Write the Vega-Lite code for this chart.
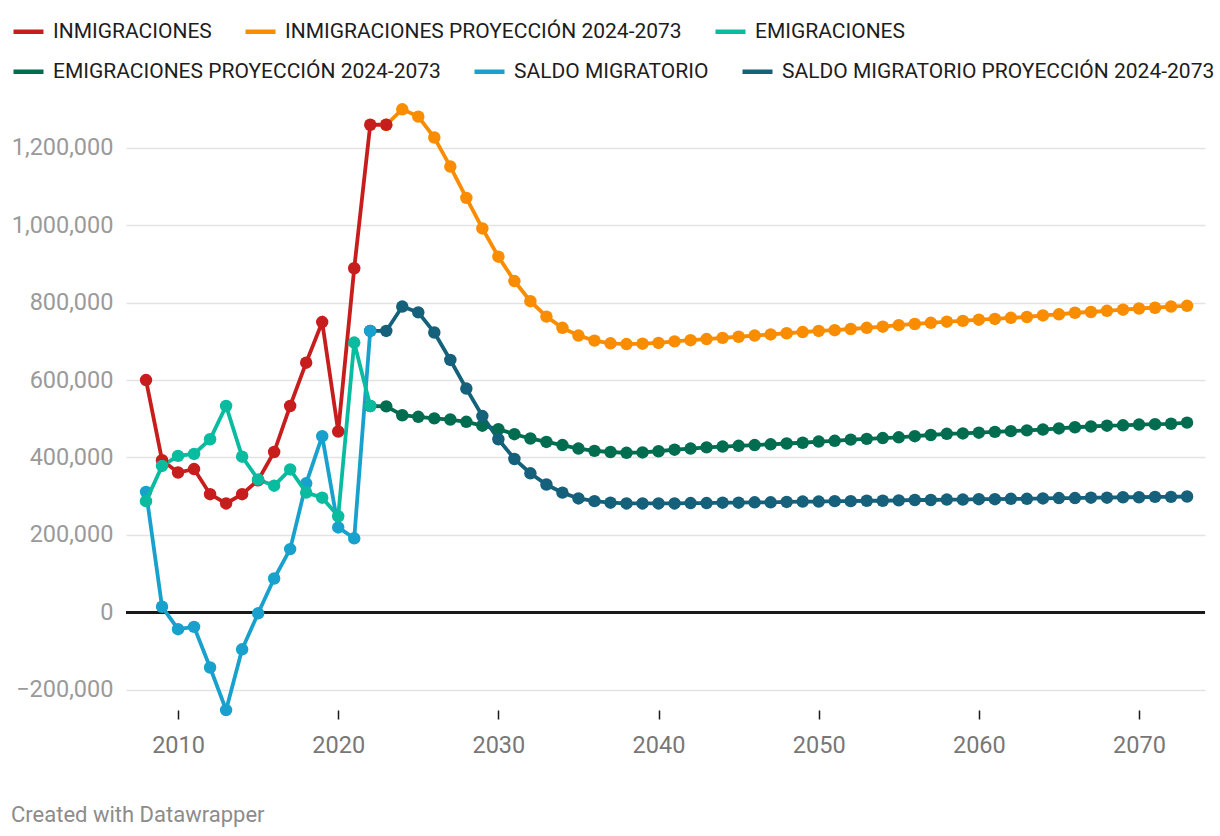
{
  "$schema": "https://vega.github.io/schema/vega-lite/v6.json",
  "width": 1079,
  "height": 605,
  "autosize": {"type": "none"},
  "padding": {"left": 126, "top": 100, "right": 15, "bottom": 131},
  "background": "#ffffff",
  "config": {
    "font": "Roboto",
    "view": {"stroke": null},
    "legend": {
      "title": null,
      "orient": "none",
      "direction": "horizontal",
      "symbolType": "stroke",
      "symbolSize": 900,
      "symbolStrokeWidth": 4.5,
      "labelFontSize": 21,
      "labelFont": "Roboto",
      "labelColor": "#1d1d1d",
      "labelOffset": 7,
      "labelLimit": 0,
      "columnPadding": 24
    }
  },
  "title": {
    "text": "Created with Datawrapper",
    "orient": "bottom",
    "anchor": "start",
    "offset": 48,
    "fontSize": 22,
    "fontWeight": "normal",
    "color": "#8c8c8c",
    "font": "Roboto"
  },
  "data": {
    "values": [
      {"year":2023,"serie":"INMIGRACIONES PROYECCIÓN 2024-2073","value":1260000},
      {"year":2024,"serie":"INMIGRACIONES PROYECCIÓN 2024-2073","value":1300000},
      {"year":2025,"serie":"INMIGRACIONES PROYECCIÓN 2024-2073","value":1281000},
      {"year":2026,"serie":"INMIGRACIONES PROYECCIÓN 2024-2073","value":1227000},
      {"year":2027,"serie":"INMIGRACIONES PROYECCIÓN 2024-2073","value":1152000},
      {"year":2028,"serie":"INMIGRACIONES PROYECCIÓN 2024-2073","value":1071000},
      {"year":2029,"serie":"INMIGRACIONES PROYECCIÓN 2024-2073","value":992000},
      {"year":2030,"serie":"INMIGRACIONES PROYECCIÓN 2024-2073","value":919000},
      {"year":2031,"serie":"INMIGRACIONES PROYECCIÓN 2024-2073","value":856000},
      {"year":2032,"serie":"INMIGRACIONES PROYECCIÓN 2024-2073","value":804000},
      {"year":2033,"serie":"INMIGRACIONES PROYECCIÓN 2024-2073","value":764000},
      {"year":2034,"serie":"INMIGRACIONES PROYECCIÓN 2024-2073","value":735000},
      {"year":2035,"serie":"INMIGRACIONES PROYECCIÓN 2024-2073","value":715000},
      {"year":2036,"serie":"INMIGRACIONES PROYECCIÓN 2024-2073","value":702000},
      {"year":2037,"serie":"INMIGRACIONES PROYECCIÓN 2024-2073","value":695000},
      {"year":2038,"serie":"INMIGRACIONES PROYECCIÓN 2024-2073","value":693000},
      {"year":2039,"serie":"INMIGRACIONES PROYECCIÓN 2024-2073","value":694000},
      {"year":2040,"serie":"INMIGRACIONES PROYECCIÓN 2024-2073","value":696000},
      {"year":2041,"serie":"INMIGRACIONES PROYECCIÓN 2024-2073","value":700000},
      {"year":2042,"serie":"INMIGRACIONES PROYECCIÓN 2024-2073","value":703000},
      {"year":2043,"serie":"INMIGRACIONES PROYECCIÓN 2024-2073","value":706000},
      {"year":2044,"serie":"INMIGRACIONES PROYECCIÓN 2024-2073","value":709000},
      {"year":2045,"serie":"INMIGRACIONES PROYECCIÓN 2024-2073","value":712000},
      {"year":2046,"serie":"INMIGRACIONES PROYECCIÓN 2024-2073","value":715000},
      {"year":2047,"serie":"INMIGRACIONES PROYECCIÓN 2024-2073","value":718000},
      {"year":2048,"serie":"INMIGRACIONES PROYECCIÓN 2024-2073","value":721000},
      {"year":2049,"serie":"INMIGRACIONES PROYECCIÓN 2024-2073","value":724000},
      {"year":2050,"serie":"INMIGRACIONES PROYECCIÓN 2024-2073","value":727000},
      {"year":2051,"serie":"INMIGRACIONES PROYECCIÓN 2024-2073","value":729000},
      {"year":2052,"serie":"INMIGRACIONES PROYECCIÓN 2024-2073","value":732000},
      {"year":2053,"serie":"INMIGRACIONES PROYECCIÓN 2024-2073","value":735000},
      {"year":2054,"serie":"INMIGRACIONES PROYECCIÓN 2024-2073","value":738000},
      {"year":2055,"serie":"INMIGRACIONES PROYECCIÓN 2024-2073","value":742000},
      {"year":2056,"serie":"INMIGRACIONES PROYECCIÓN 2024-2073","value":745000},
      {"year":2057,"serie":"INMIGRACIONES PROYECCIÓN 2024-2073","value":748000},
      {"year":2058,"serie":"INMIGRACIONES PROYECCIÓN 2024-2073","value":751000},
      {"year":2059,"serie":"INMIGRACIONES PROYECCIÓN 2024-2073","value":753000},
      {"year":2060,"serie":"INMIGRACIONES PROYECCIÓN 2024-2073","value":756000},
      {"year":2061,"serie":"INMIGRACIONES PROYECCIÓN 2024-2073","value":758000},
      {"year":2062,"serie":"INMIGRACIONES PROYECCIÓN 2024-2073","value":761000},
      {"year":2063,"serie":"INMIGRACIONES PROYECCIÓN 2024-2073","value":763000},
      {"year":2064,"serie":"INMIGRACIONES PROYECCIÓN 2024-2073","value":767000},
      {"year":2065,"serie":"INMIGRACIONES PROYECCIÓN 2024-2073","value":770000},
      {"year":2066,"serie":"INMIGRACIONES PROYECCIÓN 2024-2073","value":774000},
      {"year":2067,"serie":"INMIGRACIONES PROYECCIÓN 2024-2073","value":776000},
      {"year":2068,"serie":"INMIGRACIONES PROYECCIÓN 2024-2073","value":779000},
      {"year":2069,"serie":"INMIGRACIONES PROYECCIÓN 2024-2073","value":782000},
      {"year":2070,"serie":"INMIGRACIONES PROYECCIÓN 2024-2073","value":785000},
      {"year":2071,"serie":"INMIGRACIONES PROYECCIÓN 2024-2073","value":787000},
      {"year":2072,"serie":"INMIGRACIONES PROYECCIÓN 2024-2073","value":790000},
      {"year":2073,"serie":"INMIGRACIONES PROYECCIÓN 2024-2073","value":792000},
      {"year":2022,"serie":"EMIGRACIONES PROYECCIÓN 2024-2073","value":533000},
      {"year":2023,"serie":"EMIGRACIONES PROYECCIÓN 2024-2073","value":532000},
      {"year":2024,"serie":"EMIGRACIONES PROYECCIÓN 2024-2073","value":509000},
      {"year":2025,"serie":"EMIGRACIONES PROYECCIÓN 2024-2073","value":505000},
      {"year":2026,"serie":"EMIGRACIONES PROYECCIÓN 2024-2073","value":501000},
      {"year":2027,"serie":"EMIGRACIONES PROYECCIÓN 2024-2073","value":498000},
      {"year":2028,"serie":"EMIGRACIONES PROYECCIÓN 2024-2073","value":492000},
      {"year":2029,"serie":"EMIGRACIONES PROYECCIÓN 2024-2073","value":482000},
      {"year":2030,"serie":"EMIGRACIONES PROYECCIÓN 2024-2073","value":473000},
      {"year":2031,"serie":"EMIGRACIONES PROYECCIÓN 2024-2073","value":460000},
      {"year":2032,"serie":"EMIGRACIONES PROYECCIÓN 2024-2073","value":449000},
      {"year":2033,"serie":"EMIGRACIONES PROYECCIÓN 2024-2073","value":440000},
      {"year":2034,"serie":"EMIGRACIONES PROYECCIÓN 2024-2073","value":432000},
      {"year":2035,"serie":"EMIGRACIONES PROYECCIÓN 2024-2073","value":423000},
      {"year":2036,"serie":"EMIGRACIONES PROYECCIÓN 2024-2073","value":417000},
      {"year":2037,"serie":"EMIGRACIONES PROYECCIÓN 2024-2073","value":414000},
      {"year":2038,"serie":"EMIGRACIONES PROYECCIÓN 2024-2073","value":412000},
      {"year":2039,"serie":"EMIGRACIONES PROYECCIÓN 2024-2073","value":413000},
      {"year":2040,"serie":"EMIGRACIONES PROYECCIÓN 2024-2073","value":416000},
      {"year":2041,"serie":"EMIGRACIONES PROYECCIÓN 2024-2073","value":420000},
      {"year":2042,"serie":"EMIGRACIONES PROYECCIÓN 2024-2073","value":423000},
      {"year":2043,"serie":"EMIGRACIONES PROYECCIÓN 2024-2073","value":426000},
      {"year":2044,"serie":"EMIGRACIONES PROYECCIÓN 2024-2073","value":428000},
      {"year":2045,"serie":"EMIGRACIONES PROYECCIÓN 2024-2073","value":430000},
      {"year":2046,"serie":"EMIGRACIONES PROYECCIÓN 2024-2073","value":432000},
      {"year":2047,"serie":"EMIGRACIONES PROYECCIÓN 2024-2073","value":434000},
      {"year":2048,"serie":"EMIGRACIONES PROYECCIÓN 2024-2073","value":436000},
      {"year":2049,"serie":"EMIGRACIONES PROYECCIÓN 2024-2073","value":438000},
      {"year":2050,"serie":"EMIGRACIONES PROYECCIÓN 2024-2073","value":441000},
      {"year":2051,"serie":"EMIGRACIONES PROYECCIÓN 2024-2073","value":443000},
      {"year":2052,"serie":"EMIGRACIONES PROYECCIÓN 2024-2073","value":446000},
      {"year":2053,"serie":"EMIGRACIONES PROYECCIÓN 2024-2073","value":448000},
      {"year":2054,"serie":"EMIGRACIONES PROYECCIÓN 2024-2073","value":450000},
      {"year":2055,"serie":"EMIGRACIONES PROYECCIÓN 2024-2073","value":452000},
      {"year":2056,"serie":"EMIGRACIONES PROYECCIÓN 2024-2073","value":455000},
      {"year":2057,"serie":"EMIGRACIONES PROYECCIÓN 2024-2073","value":458000},
      {"year":2058,"serie":"EMIGRACIONES PROYECCIÓN 2024-2073","value":461000},
      {"year":2059,"serie":"EMIGRACIONES PROYECCIÓN 2024-2073","value":462000},
      {"year":2060,"serie":"EMIGRACIONES PROYECCIÓN 2024-2073","value":464000},
      {"year":2061,"serie":"EMIGRACIONES PROYECCIÓN 2024-2073","value":466000},
      {"year":2062,"serie":"EMIGRACIONES PROYECCIÓN 2024-2073","value":468000},
      {"year":2063,"serie":"EMIGRACIONES PROYECCIÓN 2024-2073","value":470000},
      {"year":2064,"serie":"EMIGRACIONES PROYECCIÓN 2024-2073","value":472000},
      {"year":2065,"serie":"EMIGRACIONES PROYECCIÓN 2024-2073","value":475000},
      {"year":2066,"serie":"EMIGRACIONES PROYECCIÓN 2024-2073","value":478000},
      {"year":2067,"serie":"EMIGRACIONES PROYECCIÓN 2024-2073","value":480000},
      {"year":2068,"serie":"EMIGRACIONES PROYECCIÓN 2024-2073","value":482000},
      {"year":2069,"serie":"EMIGRACIONES PROYECCIÓN 2024-2073","value":483000},
      {"year":2070,"serie":"EMIGRACIONES PROYECCIÓN 2024-2073","value":485000},
      {"year":2071,"serie":"EMIGRACIONES PROYECCIÓN 2024-2073","value":486000},
      {"year":2072,"serie":"EMIGRACIONES PROYECCIÓN 2024-2073","value":487000},
      {"year":2073,"serie":"EMIGRACIONES PROYECCIÓN 2024-2073","value":490000},
      {"year":2022,"serie":"SALDO MIGRATORIO PROYECCIÓN 2024-2073","value":727000},
      {"year":2023,"serie":"SALDO MIGRATORIO PROYECCIÓN 2024-2073","value":727000},
      {"year":2024,"serie":"SALDO MIGRATORIO PROYECCIÓN 2024-2073","value":790000},
      {"year":2025,"serie":"SALDO MIGRATORIO PROYECCIÓN 2024-2073","value":775000},
      {"year":2026,"serie":"SALDO MIGRATORIO PROYECCIÓN 2024-2073","value":723000},
      {"year":2027,"serie":"SALDO MIGRATORIO PROYECCIÓN 2024-2073","value":652000},
      {"year":2028,"serie":"SALDO MIGRATORIO PROYECCIÓN 2024-2073","value":578000},
      {"year":2029,"serie":"SALDO MIGRATORIO PROYECCIÓN 2024-2073","value":507000},
      {"year":2030,"serie":"SALDO MIGRATORIO PROYECCIÓN 2024-2073","value":447000},
      {"year":2031,"serie":"SALDO MIGRATORIO PROYECCIÓN 2024-2073","value":396000},
      {"year":2032,"serie":"SALDO MIGRATORIO PROYECCIÓN 2024-2073","value":359000},
      {"year":2033,"serie":"SALDO MIGRATORIO PROYECCIÓN 2024-2073","value":330000},
      {"year":2034,"serie":"SALDO MIGRATORIO PROYECCIÓN 2024-2073","value":309000},
      {"year":2035,"serie":"SALDO MIGRATORIO PROYECCIÓN 2024-2073","value":294000},
      {"year":2036,"serie":"SALDO MIGRATORIO PROYECCIÓN 2024-2073","value":287000},
      {"year":2037,"serie":"SALDO MIGRATORIO PROYECCIÓN 2024-2073","value":283000},
      {"year":2038,"serie":"SALDO MIGRATORIO PROYECCIÓN 2024-2073","value":281000},
      {"year":2039,"serie":"SALDO MIGRATORIO PROYECCIÓN 2024-2073","value":281000},
      {"year":2040,"serie":"SALDO MIGRATORIO PROYECCIÓN 2024-2073","value":281000},
      {"year":2041,"serie":"SALDO MIGRATORIO PROYECCIÓN 2024-2073","value":281000},
      {"year":2042,"serie":"SALDO MIGRATORIO PROYECCIÓN 2024-2073","value":282000},
      {"year":2043,"serie":"SALDO MIGRATORIO PROYECCIÓN 2024-2073","value":282000},
      {"year":2044,"serie":"SALDO MIGRATORIO PROYECCIÓN 2024-2073","value":283000},
      {"year":2045,"serie":"SALDO MIGRATORIO PROYECCIÓN 2024-2073","value":283000},
      {"year":2046,"serie":"SALDO MIGRATORIO PROYECCIÓN 2024-2073","value":284000},
      {"year":2047,"serie":"SALDO MIGRATORIO PROYECCIÓN 2024-2073","value":284000},
      {"year":2048,"serie":"SALDO MIGRATORIO PROYECCIÓN 2024-2073","value":285000},
      {"year":2049,"serie":"SALDO MIGRATORIO PROYECCIÓN 2024-2073","value":286000},
      {"year":2050,"serie":"SALDO MIGRATORIO PROYECCIÓN 2024-2073","value":286000},
      {"year":2051,"serie":"SALDO MIGRATORIO PROYECCIÓN 2024-2073","value":287000},
      {"year":2052,"serie":"SALDO MIGRATORIO PROYECCIÓN 2024-2073","value":287000},
      {"year":2053,"serie":"SALDO MIGRATORIO PROYECCIÓN 2024-2073","value":288000},
      {"year":2054,"serie":"SALDO MIGRATORIO PROYECCIÓN 2024-2073","value":288000},
      {"year":2055,"serie":"SALDO MIGRATORIO PROYECCIÓN 2024-2073","value":289000},
      {"year":2056,"serie":"SALDO MIGRATORIO PROYECCIÓN 2024-2073","value":290000},
      {"year":2057,"serie":"SALDO MIGRATORIO PROYECCIÓN 2024-2073","value":290000},
      {"year":2058,"serie":"SALDO MIGRATORIO PROYECCIÓN 2024-2073","value":291000},
      {"year":2059,"serie":"SALDO MIGRATORIO PROYECCIÓN 2024-2073","value":291000},
      {"year":2060,"serie":"SALDO MIGRATORIO PROYECCIÓN 2024-2073","value":292000},
      {"year":2061,"serie":"SALDO MIGRATORIO PROYECCIÓN 2024-2073","value":292000},
      {"year":2062,"serie":"SALDO MIGRATORIO PROYECCIÓN 2024-2073","value":293000},
      {"year":2063,"serie":"SALDO MIGRATORIO PROYECCIÓN 2024-2073","value":293000},
      {"year":2064,"serie":"SALDO MIGRATORIO PROYECCIÓN 2024-2073","value":294000},
      {"year":2065,"serie":"SALDO MIGRATORIO PROYECCIÓN 2024-2073","value":295000},
      {"year":2066,"serie":"SALDO MIGRATORIO PROYECCIÓN 2024-2073","value":295000},
      {"year":2067,"serie":"SALDO MIGRATORIO PROYECCIÓN 2024-2073","value":296000},
      {"year":2068,"serie":"SALDO MIGRATORIO PROYECCIÓN 2024-2073","value":296000},
      {"year":2069,"serie":"SALDO MIGRATORIO PROYECCIÓN 2024-2073","value":297000},
      {"year":2070,"serie":"SALDO MIGRATORIO PROYECCIÓN 2024-2073","value":297000},
      {"year":2071,"serie":"SALDO MIGRATORIO PROYECCIÓN 2024-2073","value":298000},
      {"year":2072,"serie":"SALDO MIGRATORIO PROYECCIÓN 2024-2073","value":298000},
      {"year":2073,"serie":"SALDO MIGRATORIO PROYECCIÓN 2024-2073","value":299000},
      {"year":2008,"serie":"INMIGRACIONES","value":600000},
      {"year":2009,"serie":"INMIGRACIONES","value":393000},
      {"year":2010,"serie":"INMIGRACIONES","value":361000},
      {"year":2011,"serie":"INMIGRACIONES","value":370000},
      {"year":2012,"serie":"INMIGRACIONES","value":305000},
      {"year":2013,"serie":"INMIGRACIONES","value":281000},
      {"year":2014,"serie":"INMIGRACIONES","value":305000},
      {"year":2015,"serie":"INMIGRACIONES","value":341000},
      {"year":2016,"serie":"INMIGRACIONES","value":414000},
      {"year":2017,"serie":"INMIGRACIONES","value":533000},
      {"year":2018,"serie":"INMIGRACIONES","value":645000},
      {"year":2019,"serie":"INMIGRACIONES","value":750000},
      {"year":2020,"serie":"INMIGRACIONES","value":467000},
      {"year":2021,"serie":"INMIGRACIONES","value":889000},
      {"year":2022,"serie":"INMIGRACIONES","value":1260000},
      {"year":2023,"serie":"INMIGRACIONES","value":1260000},
      {"year":2008,"serie":"EMIGRACIONES","value":287000},
      {"year":2009,"serie":"EMIGRACIONES","value":378000},
      {"year":2010,"serie":"EMIGRACIONES","value":404000},
      {"year":2011,"serie":"EMIGRACIONES","value":409000},
      {"year":2012,"serie":"EMIGRACIONES","value":447000},
      {"year":2013,"serie":"EMIGRACIONES","value":533000},
      {"year":2014,"serie":"EMIGRACIONES","value":402000},
      {"year":2015,"serie":"EMIGRACIONES","value":343000},
      {"year":2016,"serie":"EMIGRACIONES","value":327000},
      {"year":2017,"serie":"EMIGRACIONES","value":369000},
      {"year":2018,"serie":"EMIGRACIONES","value":309000},
      {"year":2019,"serie":"EMIGRACIONES","value":296000},
      {"year":2020,"serie":"EMIGRACIONES","value":248000},
      {"year":2021,"serie":"EMIGRACIONES","value":697000},
      {"year":2022,"serie":"EMIGRACIONES","value":533000},
      {"year":2008,"serie":"SALDO MIGRATORIO","value":311000},
      {"year":2009,"serie":"SALDO MIGRATORIO","value":14000},
      {"year":2010,"serie":"SALDO MIGRATORIO","value":-44000},
      {"year":2011,"serie":"SALDO MIGRATORIO","value":-38000},
      {"year":2012,"serie":"SALDO MIGRATORIO","value":-143000},
      {"year":2013,"serie":"SALDO MIGRATORIO","value":-253000},
      {"year":2014,"serie":"SALDO MIGRATORIO","value":-96000},
      {"year":2015,"serie":"SALDO MIGRATORIO","value":-3000},
      {"year":2016,"serie":"SALDO MIGRATORIO","value":87000},
      {"year":2017,"serie":"SALDO MIGRATORIO","value":163000},
      {"year":2018,"serie":"SALDO MIGRATORIO","value":333000},
      {"year":2019,"serie":"SALDO MIGRATORIO","value":455000},
      {"year":2020,"serie":"SALDO MIGRATORIO","value":219000},
      {"year":2021,"serie":"SALDO MIGRATORIO","value":191000},
      {"year":2022,"serie":"SALDO MIGRATORIO","value":727000}
    ]
  },
  "encoding": {
    "x": {
      "field": "year",
      "type": "quantitative",
      "scale": {"domain": [2006.75, 2074.12], "nice": false, "zero": false},
      "axis": {
        "title": null,
        "values": [2010, 2020, 2030, 2040, 2050, 2060, 2070],
        "format": "d",
        "grid": false,
        "domain": false,
        "offset": 5,
        "tickSize": 9,
        "tickWidth": 1.5,
        "tickColor": "#1a1a1a",
        "labelFontSize": 23.5,
        "labelColor": "#777777",
        "labelFont": "Roboto",
        "labelPadding": 14
      }
    },
    "y": {
      "field": "value",
      "type": "quantitative",
      "scale": {"domain": [-240000, 1324000], "nice": false, "zero": false},
      "axis": {
        "title": null,
        "values": [-200000, 0, 200000, 400000, 600000, 800000, 1000000, 1200000],
        "format": ",d",
        "grid": true,
        "gridColor": "#e3e3e3",
        "gridWidth": 1.5,
        "domain": false,
        "ticks": false,
        "labelFontSize": 23.5,
        "labelColor": "#9a9a9a",
        "labelFont": "Roboto",
        "labelPadding": 13
      }
    }
  },
  "resolve": {"scale": {"color": "independent"}, "legend": {"color": "independent"}},
  "layer": [
    {
      "mark": {"type": "rule", "color": "#1a1a1a", "strokeWidth": 2},
      "encoding": {"y": {"datum": 0}, "x": null}
    },
    {
      "transform": [{"filter": {"field": "serie", "oneOf": ["EMIGRACIONES PROYECCIÓN 2024-2073", "SALDO MIGRATORIO", "SALDO MIGRATORIO PROYECCIÓN 2024-2073"]}}],
      "encoding": {
        "color": {
          "field": "serie",
          "type": "nominal",
          "scale": {
            "domain": ["EMIGRACIONES PROYECCIÓN 2024-2073", "SALDO MIGRATORIO", "SALDO MIGRATORIO PROYECCIÓN 2024-2073"],
            "range": ["#006d50", "#18a1cd", "#15607a"]
          },
          "legend": {"legendX": -115, "legendY": -46}
        }
      },
      "layer": [
        {"mark": {"type": "line", "strokeWidth": 3.8}},
        {"mark": {"type": "point", "filled": true, "opacity": 1, "size": 155}}
      ]
    },
    {
      "transform": [{"filter": {"field": "serie", "oneOf": ["INMIGRACIONES", "INMIGRACIONES PROYECCIÓN 2024-2073", "EMIGRACIONES"]}}],
      "encoding": {
        "color": {
          "field": "serie",
          "type": "nominal",
          "scale": {
            "domain": ["INMIGRACIONES", "INMIGRACIONES PROYECCIÓN 2024-2073", "EMIGRACIONES"],
            "range": ["#c71e1d", "#fa8c00", "#09bb9f"]
          },
          "legend": {"legendX": -115, "legendY": -86}
        }
      },
      "layer": [
        {"mark": {"type": "line", "strokeWidth": 3.8}},
        {"mark": {"type": "point", "filled": true, "opacity": 1, "size": 155}}
      ]
    }
  ]
}
